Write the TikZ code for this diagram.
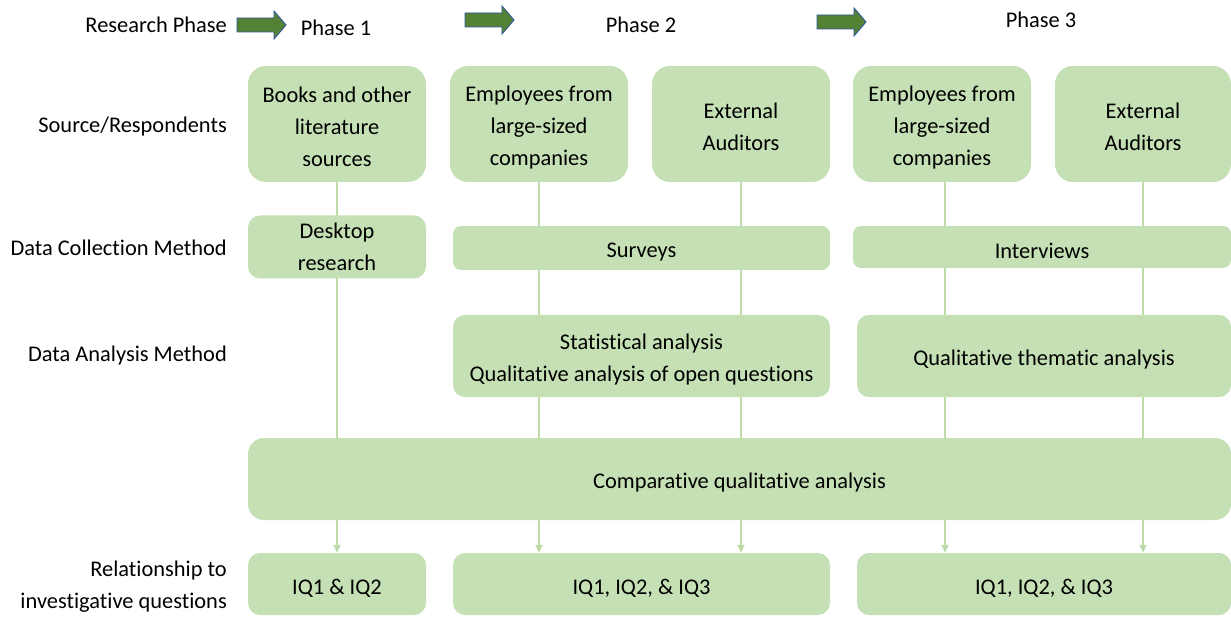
\documentclass[tikz,border=0pt]{standalone}
\usepackage{fontspec}
\setmainfont[Ligatures=NoCommon]{Carlito}
\usetikzlibrary{arrows.meta,backgrounds}
\definecolor{boxgreen}{HTML}{C5E0B4}
\definecolor{linegreen}{HTML}{BDDCA8}
\definecolor{arrgreen}{HTML}{548235}
\definecolor{arrblue}{HTML}{2F5597}
\newcommand\phasearrow[2]{%
  \draw[fill=arrgreen,draw=arrblue,line width=0.9pt]
    (#1,#2-7) -- (#1+37,#2-7) -- (#1+37,#2-14) -- (#1+49,#2) -- (#1+37,#2+14) -- (#1+37,#2+7) -- (#1,#2+7) -- cycle;}
\newcommand\toplift{\rule{0pt}{22pt}}
\begin{document}
\begin{tikzpicture}[x=1pt,y=-1pt,
  font=\fontsize{22.4}{32}\selectfont,
  box/.style={fill=boxgreen,draw=none,inner sep=0pt,align=center,rounded corners=#1,
    execute at begin node={\rule{0pt}{23pt}}},
  box/.default=18pt,
  lbl/.style={anchor=east,align=right,inner sep=0pt},
  conn/.style={draw=linegreen,line width=1.6pt},
  conntip/.style={conn,-{Triangle[width=7pt,length=8pt]}}]
\useasboundingbox (0,0) rectangle (1231,617);
% row labels
\node[lbl] (lrp) at (227,25) {Research Phase};
\node[lbl] (lsr) at (227,127) {Source/Respondents};
\node[lbl] (ldc) at (227,248) {Data Collection Method};
\node[lbl] (lda) at (227,356) {Data Analysis Method};
\node[lbl] (lrel) at (227,587) {Relationship to\\investigative questions};
% phase headers
\node[inner sep=0pt] (p1) at (336,28) {Phase 1};
\node[inner sep=0pt] (p2) at (641,25) {Phase 2};
\node[inner sep=0pt] (p3) at (1041,20) {Phase 3};
\phasearrow{237}{25}
\phasearrow{465}{20}
\phasearrow{817}{22}
% row 1
\node[box,minimum width=178,minimum height=116] (books) at (337,124) {\toplift Books and other\\literature\\sources};
\node[box,minimum width=178,minimum height=116] (emp2) at (539,124) {\toplift Employees from\\large-sized\\companies};
\node[box,minimum width=178,minimum height=116] (ext2) at (741,124) {\toplift External\\Auditors};
\node[box,minimum width=178,minimum height=116] (emp3) at (942,124) {\toplift Employees from\\large-sized\\companies};
\node[box,minimum width=176,minimum height=116] (ext3) at (1143,124) {\toplift External\\Auditors};
% row 2
\node[box=12pt,minimum width=178,minimum height=63] (desk) at (337,247) {Desktop\\research};
\node[box=8pt,minimum width=377,minimum height=44] (surv) at (641.5,248) {Surveys};
\node[box=8pt,minimum width=378,minimum height=42] (intv) at (1042,247) {Interviews};
% row 3
\node[box=12pt,minimum width=377,minimum height=82] (stat) at (641.5,356) {\toplift Statistical analysis\\Qualitative analysis of open questions};
\node[box=12pt,minimum width=374,minimum height=82] (them) at (1044,356) {Qualitative thematic analysis};
% row 4
\node[box=16pt,minimum width=983,minimum height=82] (comp) at (739.5,479) {Comparative qualitative analysis};
% row 5
\node[box=12pt,minimum width=178,minimum height=62] (iq1) at (337,584) {IQ1 \& IQ2};
\node[box=12pt,minimum width=377,minimum height=62] (iq2) at (641.5,584) {IQ1, IQ2, \& IQ3};
\node[box=12pt,minimum width=374,minimum height=62] (iq3) at (1044,584) {IQ1, IQ2, \& IQ3};
% connectors behind boxes
\begin{scope}[on background layer]
\draw[conntip] (books.south) -- (iq1.north);
\draw[conntip] (emp2.south) -- (emp2.south |- iq2.north);
\draw[conntip] (ext2.south) -- (ext2.south |- iq2.north);
\coordinate (c3) at ([xshift=3pt]emp3.south);
\draw[conntip] (c3) -- (c3 |- iq3.north);
\draw[conntip] (ext3.south) -- (ext3.south |- iq3.north);
\end{scope}
\end{tikzpicture}
\end{document}
